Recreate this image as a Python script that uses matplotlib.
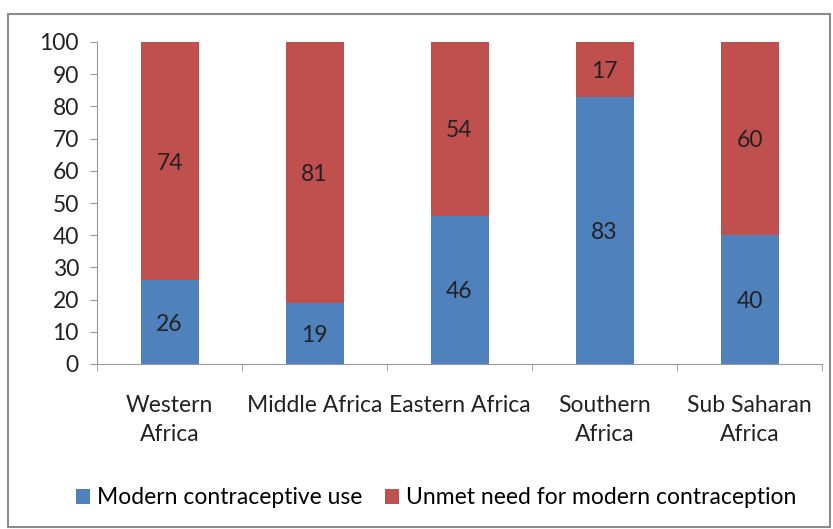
import numpy as np
import matplotlib.pyplot as plt
from matplotlib.patches import Rectangle

# data
regions = ["Western\nAfrica", "Middle Africa", "Eastern Africa", "Southern\nAfrica", "Sub Saharan\nAfrica"]
modern_use = [26, 19, 46, 83, 40]
unmet_need = [74, 81, 54, 17, 60]

blue = "#4F81BD"
red = "#C0504D"
plt.rcParams['font.family'] = ['Lato', 'DejaVu Sans']
fs = 16.5

fig = plt.figure(figsize=(8.33, 5.29), dpi=100)
ax = fig.add_axes([97 / 833, 165 / 529, 725 / 833, 322 / 529])

# outer frame
fig.patches.append(Rectangle((8 / 833, 2 / 529), 822 / 833, 513 / 529, transform=fig.transFigure,
                             fill=False, edgecolor="#8c8c8c", linewidth=1.5))

x = np.arange(len(regions))
b1 = ax.bar(x, modern_use, width=0.4, color=blue, label="Modern contraceptive use")
b2 = ax.bar(x, unmet_need, width=0.4, bottom=modern_use, color=red,
            label="Unmet need for modern contraception")

for i in range(len(regions)):
    ax.text(x[i], modern_use[i] / 2, str(modern_use[i]), ha="center", va="center_baseline",
            fontsize=fs, color="#222222")
    ax.text(x[i], modern_use[i] + unmet_need[i] / 2, str(unmet_need[i]), ha="center",
            va="center_baseline", fontsize=fs, color="#222222")

ax.set_xlim(-0.5, len(regions) - 0.5)
ax.set_ylim(0, 100)
ax.set_yticks(range(0, 101, 10))
ax.set_xticks(x)
ax.set_xticklabels(regions, fontsize=fs, color="#222222", linespacing=1.5)
ax.set_xticks(np.arange(-0.5, len(regions), 1), minor=True)
ax.tick_params(axis="x", which="major", length=0, pad=22)
ax.tick_params(axis="x", which="minor", length=5, color="#999999")
ax.tick_params(axis="y", length=5, color="#999999", labelsize=fs, labelcolor="#222222", pad=8)

for s in ["top", "right"]:
    ax.spines[s].set_visible(False)
for s in ["left", "bottom"]:
    ax.spines[s].set_color("#999999")

fig.legend(handles=[b1, b2], loc="center", bbox_to_anchor=(436 / 833, 1 - 498 / 529), ncol=2,
           frameon=False, fontsize=fs, handlelength=0.6, handleheight=0.6, handletextpad=0.3,
           columnspacing=1.0)

fig.savefig("out.png", dpi=100)
